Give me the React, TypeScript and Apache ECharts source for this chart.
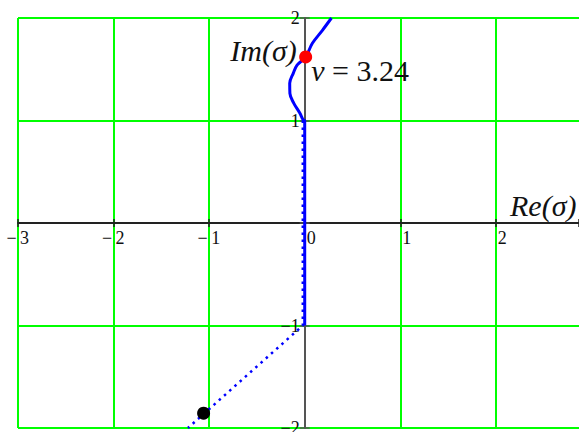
import React, { useEffect, useRef } from "react";
import * as echarts from "echarts";

// Axis ranges of the root-locus plane
const reMin = -3;
const reMax = 2.87;
const imMin = -2;
const imMax = 2;
const step = 1;

// Root trajectory, solid branch (Re, Im)
const solidRe = [0, 0, -0.015, -0.05, -0.115, -0.155, -0.157, -0.12, -0.08, 0.01, 0.08, 0.185, 0.28];
const solidIm = [-1, 1, 1.005, 1.07, 1.17, 1.265, 1.363, 1.46, 1.54, 1.62, 1.753, 1.88, 2.0];

// Root trajectory, dotted branch (Re, Im)
const dottedRe = [-0.02, -0.02, -1.222];
const dottedIm = [1, -1, -2];

// Current root for the chosen ν
const nu = 3.24;
const currentRe = [0.01];
const currentIm = [1.62];

// Starting point of the trajectory
const startRe = [-1.058];
const startIm = [-1.855];

const zip = (a: number[], b: number[]) => a.map((v, i) => [v, b[i]]);

const serif = "'Liberation Serif', 'Times New Roman', serif";
const minus = "\u2212";

// Plot frame inside the 579×432 canvas
const frame = { left: 18, right: 0, top: 18, bottom: 4, width: 579, height: 432 };

export default function App() {
  const ref = useRef<HTMLDivElement>(null);

  useEffect(() => {
    const chart = echarts.init(ref.current!, null, { renderer: "svg" });

    const gridW = frame.width - frame.left - frame.right;
    const gridH = frame.height - frame.top - frame.bottom;
    // distances from the frame edges to the Re = 0 / Im = 0 lines
    const zeroFromBottom = (gridH * (0 - imMin)) / (imMax - imMin);
    const zeroFromTop = gridH - zeroFromBottom;
    const zeroFromLeft = (gridW * (0 - reMin)) / (reMax - reMin);
    const zeroFromRight = gridW - zeroFromLeft;

    const isInt = (v: number) => Math.abs(v - Math.round(v)) < 1e-6;
    const xFmt = (v: number) => {
      if (!isInt(v)) return "";
      const n = Math.round(v);
      return n < 0 ? `{m|${minus}}{d|${-n}}` : `{m| }{d|${n}}`;
    };
    const yFmt = (v: number) => {
      if (!isInt(v)) return "";
      const n = Math.round(v);
      if (n === 0) return "";
      return n < 0 ? `${minus}${-n}` : `${n}`;
    };

    const tickFont = { fontFamily: serif, fontSize: 18, color: "#111" };
    const xTick = { show: true, length: 4, lineStyle: { color: "#222", width: 1.5 } };
    const yTick = { show: true, length: 5, lineStyle: { color: "#555", width: 1.5 } };

    chart.setOption({
      animation: false,
      backgroundColor: "#ffffff",
      grid: {
        left: frame.left,
        right: frame.right,
        top: frame.top,
        bottom: frame.bottom,
        containLabel: false,
        outerBoundsMode: "none",
      },
      xAxis: [
        {
          type: "value",
          min: reMin,
          max: reMax,
          interval: step,
          position: "bottom",
          offset: -zeroFromBottom,
          axisLine: { onZero: false, lineStyle: { color: "#222", width: 2 } },
          axisTick: xTick,
          axisLabel: {
            formatter: xFmt,
            margin: 6,
            align: "center",
            ...tickFont,
            rich: {
              m: { ...tickFont, width: 11, align: "right" },
              d: { ...tickFont, width: 11, align: "left", padding: [0, 0, 0, 2] },
            },
          },
          splitLine: { show: true, showMaxLine: false, lineStyle: { color: "#00ff00", width: 2 } },
          name: "Re(\u03c3)",
          nameLocation: "end",
          nameGap: -69,
          nameTextStyle: {
            fontFamily: serif,
            fontStyle: "italic",
            fontSize: 30,
            color: "#111",
            align: "left",
            verticalAlign: "bottom",
            padding: [0, 0, 3, 0],
          },
        },
        {
          // upper half of the crossing tick marks on the real axis
          type: "value",
          min: reMin,
          max: reMax,
          interval: step,
          position: "top",
          offset: -zeroFromTop,
          axisLine: { show: false, onZero: false },
          axisTick: xTick,
          axisLabel: { show: false },
          splitLine: { show: false },
        },
      ],
      yAxis: [
        {
          type: "value",
          min: imMin,
          max: imMax,
          interval: step,
          position: "left",
          offset: -zeroFromLeft,
          axisLine: { onZero: false, lineStyle: { color: "#555", width: 2 } },
          axisTick: yTick,
          axisLabel: {
            formatter: yFmt,
            margin: 5,
            ...tickFont,
            padding: [10, 0, 0, 0],
          },
          splitLine: { show: true, lineStyle: { color: "#00ff00", width: 2 } },
          name: "Im(\u03c3)",
          nameLocation: "end",
          nameGap: -32,
          nameTextStyle: {
            fontFamily: serif,
            fontStyle: "italic",
            fontSize: 30,
            color: "#111",
            align: "right",
            verticalAlign: "middle",
            padding: [0, 8, 0, 0],
          },
        },
        {
          // right half of the crossing tick marks on the imaginary axis
          type: "value",
          min: imMin,
          max: imMax,
          interval: step,
          position: "right",
          offset: -zeroFromRight,
          axisLine: { show: false, onZero: false },
          axisTick: yTick,
          axisLabel: { show: false },
          splitLine: { show: false },
        },
      ],
      series: [
        {
          type: "line",
          data: zip(dottedRe, dottedIm),
          showSymbol: false,
          symbol: "none",
          lineStyle: { color: "#0000ff", width: 2.5, type: [2.5, 4.5] },
          z: 3,
        },
        {
          type: "line",
          data: zip(solidRe, solidIm),
          showSymbol: false,
          symbol: "none",
          smooth: 0.35,
          lineStyle: { color: "#0000ff", width: 3 },
          z: 4,
        },
        {
          type: "scatter",
          data: zip(startRe, startIm),
          symbolSize: 13,
          itemStyle: { color: "#000000", opacity: 1 },
          z: 5,
        },
        {
          type: "scatter",
          data: zip(currentRe, currentIm),
          symbolSize: 13,
          itemStyle: { color: "#ff0000", opacity: 1 },
          z: 6,
          label: {
            show: true,
            position: "right",
            distance: 0,
            offset: [-1, 14],
            formatter: `{v|\u03bd} = ${nu}`,
            fontFamily: serif,
            fontSize: 30,
            color: "#111",
            rich: {
              v: { fontFamily: serif, fontSize: 30, fontStyle: "italic", color: "#111" },
            },
          },
        },
      ],
    });

    return () => chart.dispose();
  }, []);

  return (
    <div
      ref={ref}
      style={{ position: "fixed", left: 0, top: 0, width: 579, height: 432, background: "#fff" }}
    />
  );
}
